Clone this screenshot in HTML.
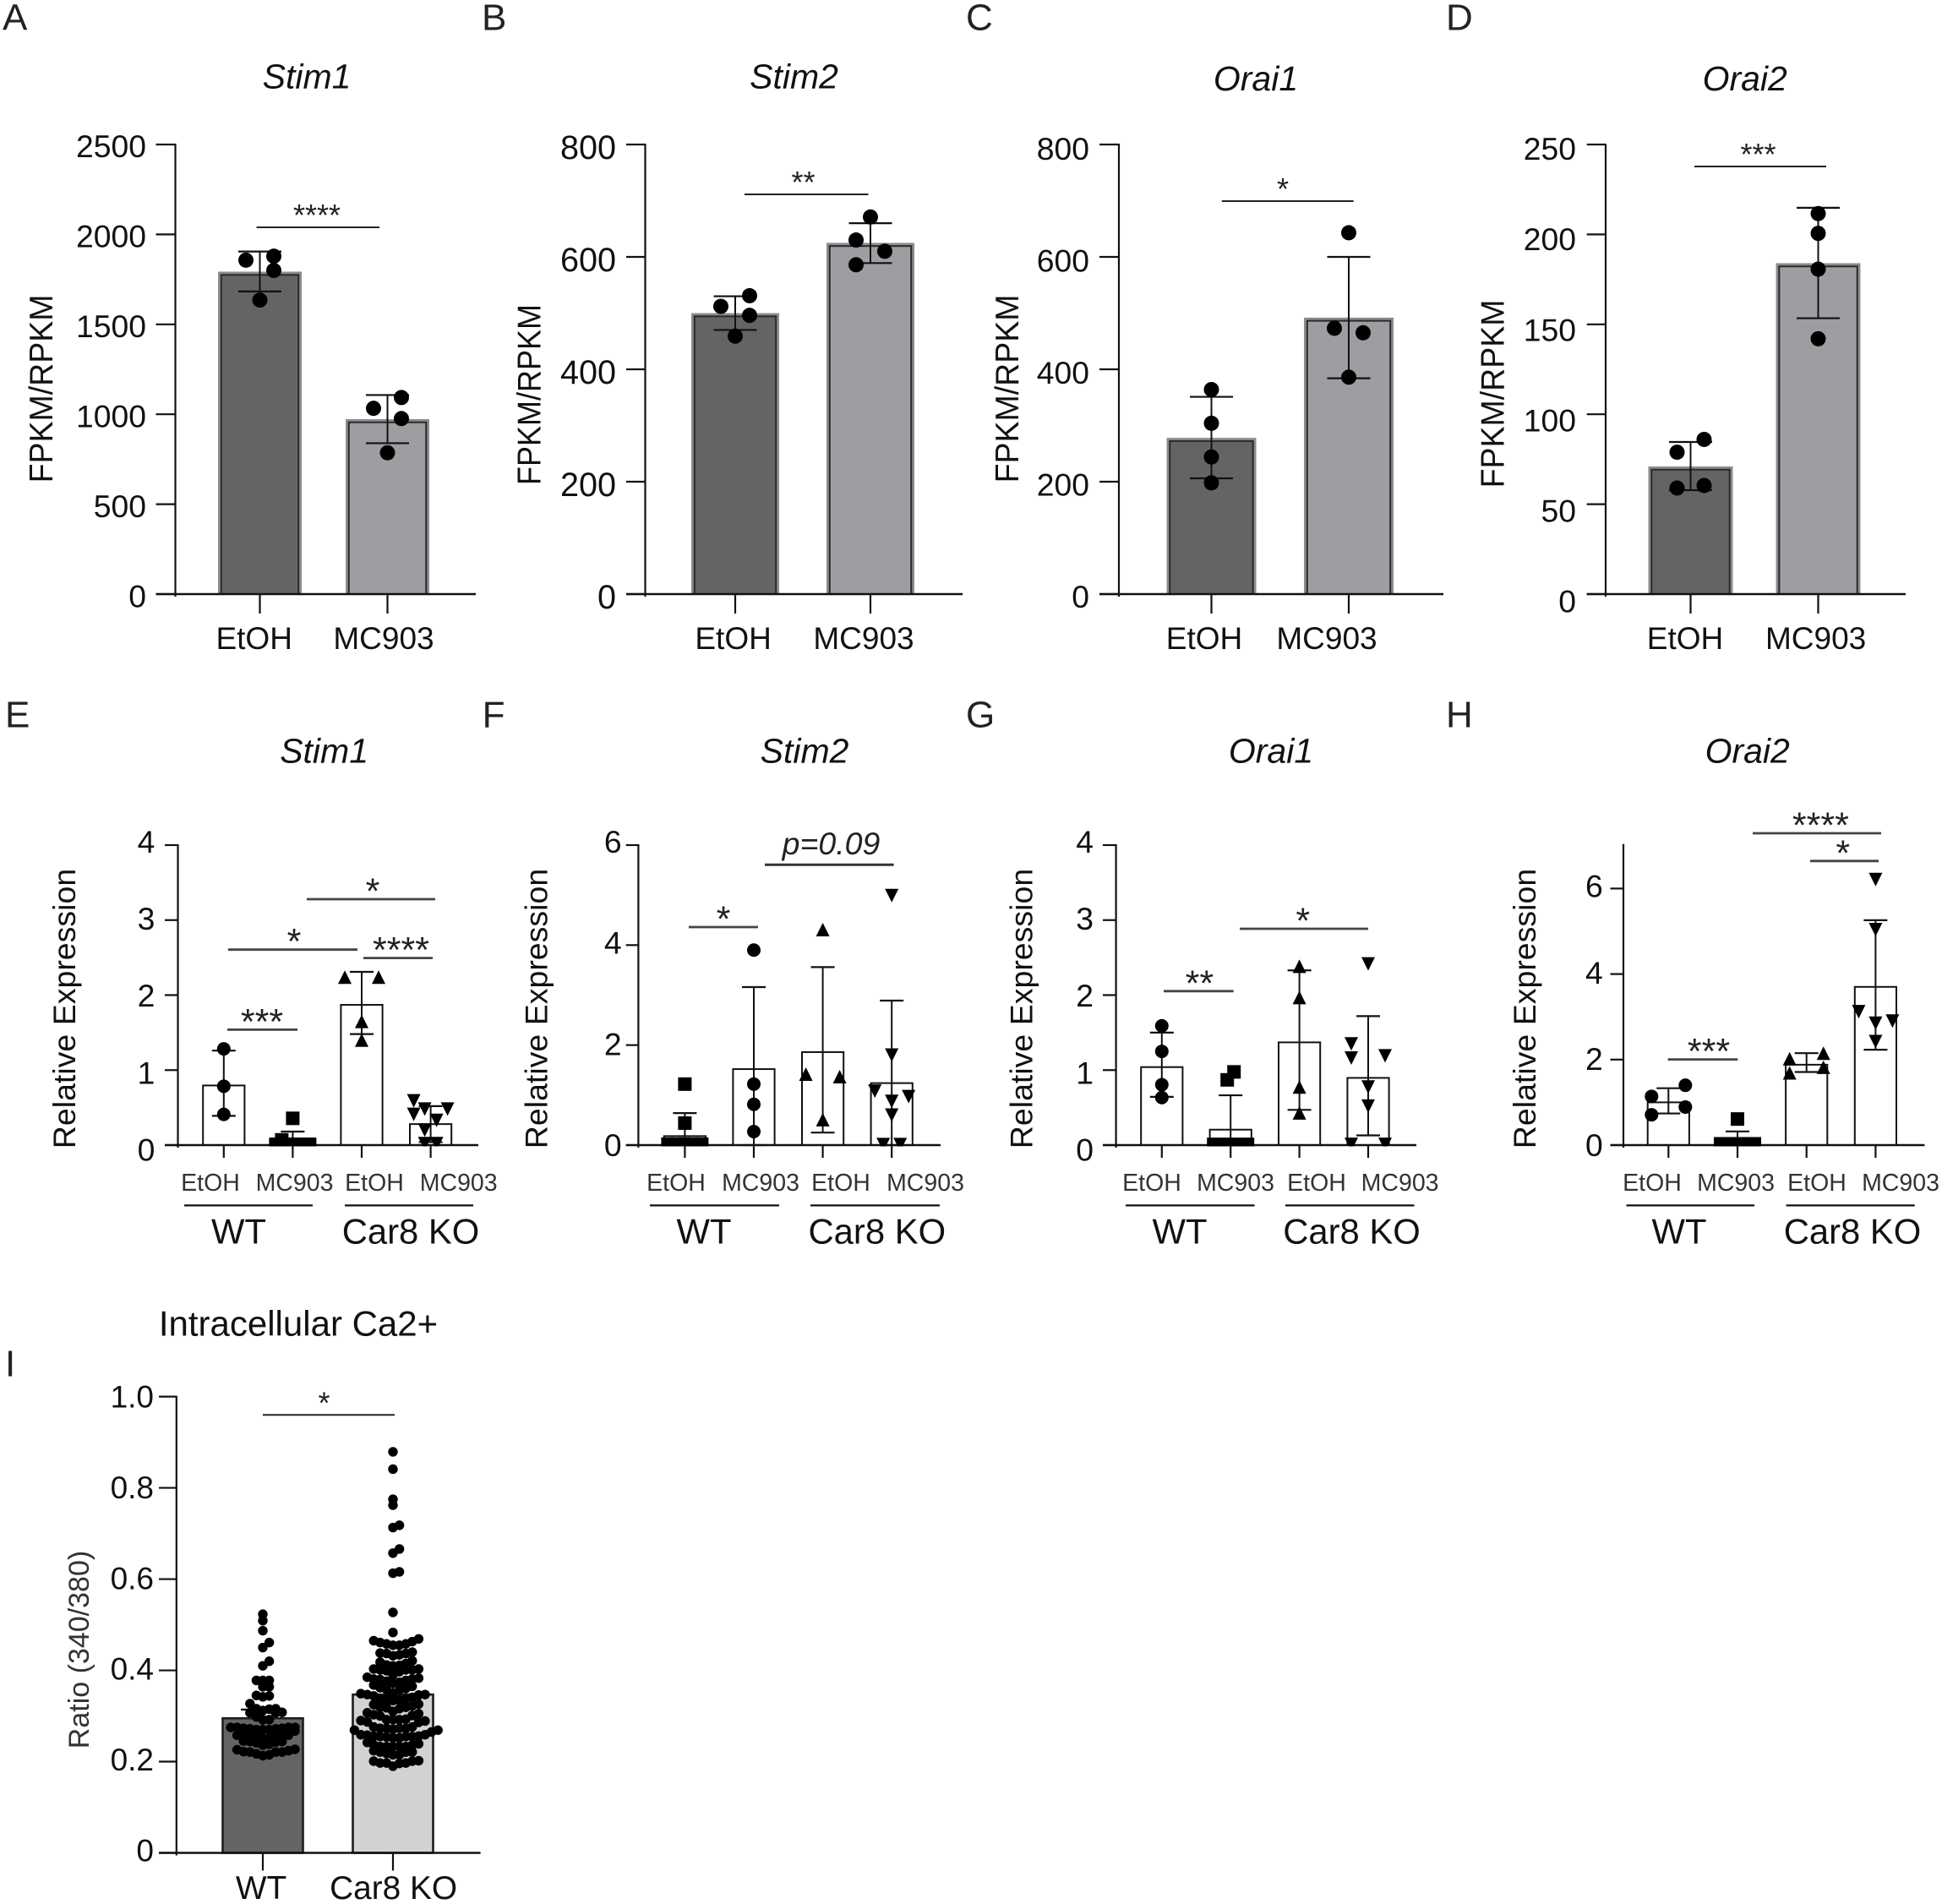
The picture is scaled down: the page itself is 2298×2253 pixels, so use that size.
<!DOCTYPE html>
<html lang="en">
<head>
<meta charset="utf-8">
<title>Stim and Orai expression panels</title>
<style>
html,body{margin:0;padding:0;background:#fff;}
svg{display:block;font-family:"Liberation Sans",sans-serif;}
</style>
</head>
<body>
<svg id="figure" xmlns="http://www.w3.org/2000/svg" width="2298" height="2253" viewBox="0 0 2298 2253"></svg>
<script>
// ---------- DATA ----------
const rnaCategories = ['EtOH', 'MC903'];
const qpcrCategories = ['EtOH', 'MC903', 'EtOH', 'MC903'];
const genotypeLabels = ['WT', 'Car8 KO'];

const aTicks = [0, 500, 1000, 1500, 2000, 2500];
const aMeans = [1793, 973];
const aErrHigh = [1905, 1107];
const aErrLow = [1683, 839];
const aPoints = [[1857, 1879, 1800, 1635], [1033, 1093, 976, 786]];
const aJitter = [[-1, 1, 1, 0], [-1, 1, 1, 0]];

const bTicks = [0, 200, 400, 600, 800];
const bMeans = [500, 625];
const bErrHigh = [530, 660];
const bErrLow = [470, 589];
const bPoints = [[512, 531, 496, 459], [630, 671, 610, 586]];
const bJitter = [[-1, 1, 1, 0], [-1, 0, 1, -1]];

const cTicks = [0, 200, 400, 600, 800];
const cMeans = [278, 492];
const cErrHigh = [351, 600];
const cErrLow = [206, 384];
const cPoints = [[364, 304, 244, 198], [473, 465, 643, 386]];
const cJitter = [[0, 0, 0, 0], [-1, 1, 0, 0]];

const dTicks = [0, 50, 100, 150, 200, 250];
const dMeans = [71, 184];
const dErrHigh = [84.6, 214.8];
const dErrLow = [57.8, 153.4];
const dPoints = [[78.9, 86, 59, 60.4], [211.6, 200.6, 180.7, 142]];
const dJitter = [[-1, 1, -1, 1], [0, 0, 0, 0]];

const eTicks = [0, 1, 2, 3, 4];
const eMeans = [0.795, 0.09, 1.87, 0.28];
const eErrHigh = [1.26, 0.18, 2.31, 0.52];
const eErrLow = [0.39, 0, 1.48, 0.04];
const ePoints = [[1.283, 0.785, 0.41], [0.357, 0.07, 0.01, 0.01, 0.01, 0.01], [2.24, 2.24, 1.65, 1.4], [0.59, 0.41, 0.48, 0.48, 0.33, 0.2, 0.02, 0.02]];
const eJitter = [[0, 0, 0], [0, -0.65, -1, -0.33, 0.33, 1], [-1, 1, 0, 0], [-1, -1, -0.35, 1, 0.35, -0.35, -0.35, 0.35]];

const fTicks = [0, 2, 4, 6];
const fMeans = [0.18, 1.52, 1.86, 1.24];
const fErrHigh = [0.64, 3.16, 3.56, 2.89];
const fErrLow = [0, 0, 0.25, 0];
const fPoints = [[1.22, 0.44, 0.02, 0.02, 0.02, 0.02, 0.02], [3.9, 1.22, 0.815, 0.27], [4.31, 1.42, 1.37, 0.51], [4.99, 1.8, 1.08, 0.97, 0.875, 0.6, 0.01, 0.01]];
const fJitter = [[0, 0, -1, -0.5, 0, 0.5, 1], [0, 0, 0, 0], [0, -1, 1, 0], [0, 0, -1, 1, 0, 0, -0.5, 0.5]];

const gTicks = [0, 1, 2, 3, 4];
const gMeans = [1.04, 0.206, 1.37, 0.896];
const gErrHigh = [1.5, 0.664, 2.33, 1.72];
const gErrLow = [0.644, 0, 0.47, 0.13];
const gPoints = [[1.59, 1.25, 0.805, 0.634], [0.976, 0.87, 0.01, 0.01, 0.01, 0.01], [2.385, 1.967, 0.775, 0.43], [2.415, 1.35, 1.16, 1.19, 0.775, 0.52, 0.01, 0.01]];
const gJitter = [[0, 0, 0, 0], [0.2, -0.2, -1, -0.33, 0.33, 1], [0, 0, 0, 0], [0, -1, -1, 1, 0, 0, -1, 1]];

const hTicks = [0, 2, 4, 6];
const hMeans = [1.0, 0.16, 1.88, 3.7];
const hErrHigh = [1.33, 0.32, 2.15, 5.26];
const hErrLow = [0.74, 0, 1.71, 2.23];
const hPoints = [[1.14, 1.4, 0.89, 0.71], [0.61, 0.03, 0.03, 0.03, 0.03, 0.03], [2.02, 2.15, 1.82, 1.69], [6.21, 5.04, 3.12, 2.9, 2.85, 2.42]];
const hJitter = [[-1, 1, 1, -1], [0, -1, -0.5, 0, 0.5, 1], [-1, 1, 1, -1], [0, 0, -1, 1, 0, 0]];

const iTicks = [0, 0.2, 0.4, 0.6, 0.8, 1.0];
const iTickLabels = ['0', '0.2', '0.4', '0.6', '0.8', '1.0'];
const iMeans = [0.295, 0.347];
const iErrHigh = [0.314, 0.366];
const iErrLow = [0.276, 0.328];
const iWtValues = [0.523, 0.509, 0.487, 0.461, 0.450, 0.420, 0.410, 0.378, 0.378, 0.378, 0.364, 0.364, 0.345, 0.344, 0.342, 0.327, 0.316, 0.315, 0.316, 0.312, 0.308, 0.307, 0.307, 0.298, 0.292, 0.292, 0.275, 0.275, 0.275, 0.273, 0.272, 0.270, 0.267, 0.273, 0.270, 0.275, 0.270, 0.272, 0.258, 0.258, 0.257, 0.255, 0.255, 0.252, 0.258, 0.255, 0.251, 0.243, 0.241, 0.244, 0.245, 0.238, 0.236, 0.244, 0.221, 0.224, 0.226, 0.227, 0.221, 0.215, 0.217, 0.221, 0.222, 0.213];
const iKoValues = [0.879, 0.841, 0.775, 0.762, 0.718, 0.713, 0.666, 0.657, 0.616, 0.613, 0.527, 0.483, 0.455, 0.458, 0.465, 0.469, 0.463, 0.455, 0.458, 0.461, 0.437, 0.438, 0.437, 0.440, 0.432, 0.434, 0.410, 0.401, 0.401, 0.403, 0.411, 0.418, 0.421, 0.415, 0.412, 0.397, 0.399, 0.401, 0.403, 0.390, 0.381, 0.380, 0.381, 0.378, 0.374, 0.372, 0.385, 0.383, 0.376, 0.360, 0.357, 0.358, 0.365, 0.362, 0.368, 0.349, 0.341, 0.338, 0.334, 0.335, 0.337, 0.338, 0.347, 0.347, 0.350, 0.344, 0.346, 0.316, 0.318, 0.319, 0.326, 0.319, 0.322, 0.325, 0.301, 0.310, 0.307, 0.300, 0.305, 0.303, 0.292, 0.290, 0.289, 0.292, 0.293, 0.287, 0.286, 0.292, 0.269, 0.273, 0.276, 0.273, 0.273, 0.273, 0.276, 0.269, 0.265, 0.271, 0.259, 0.259, 0.256, 0.252, 0.256, 0.252, 0.254, 0.255, 0.258, 0.255, 0.255, 0.233, 0.237, 0.233, 0.233, 0.242, 0.239, 0.236, 0.233, 0.233, 0.224, 0.221, 0.215, 0.215, 0.218, 0.221, 0.221, 0.197, 0.202, 0.201, 0.190, 0.196, 0.197, 0.197, 0.201];

// ---------- DRAWING ----------
const NS = 'http://www.w3.org/2000/svg';
const INK = '#111';
const figure = document.getElementById('figure');

function mk(tag, attrs, parent, text) {
  const el = document.createElementNS(NS, tag);
  for (const k in attrs) el.setAttribute(k, attrs[k]);
  if (text !== undefined) el.textContent = text;
  parent.appendChild(el);
  return el;
}

function line(parent, x1, y1, x2, y2, w, color) {
  return mk('line', {x1: x1, y1: y1, x2: x2, y2: y2, stroke: color || INK, 'stroke-width': w}, parent);
}

function label(parent, x, y, str, size, anchor, extra) {
  const attrs = Object.assign({x: x, y: y, 'font-size': size, 'text-anchor': anchor || 'middle', fill: INK}, extra || {});
  return mk('text', attrs, parent, str);
}

function marker(parent, shape, x, y, s) {
  if (shape === 'circle') return mk('circle', {cx: x, cy: y, r: s, fill: '#000'}, parent);
  if (shape === 'square') return mk('rect', {x: x - s, y: y - s, width: 2 * s, height: 2 * s, fill: '#000'}, parent);
  if (shape === 'up') return mk('polygon', {points: (x - s) + ',' + (y + s) + ' ' + (x + s) + ',' + (y + s) + ' ' + x + ',' + (y - s), fill: '#000'}, parent);
  return mk('polygon', {points: (x - s) + ',' + (y - s) + ' ' + (x + s) + ',' + (y - s) + ' ' + x + ',' + (y + s), fill: '#000'}, parent);
}

function drawFrame(g, p) {
  const yS = function (v) { return p.y0 + (p.yTop - p.y0) * v / p.yMax; };
  const xS = function (i) { return p.cx0 + i * p.step; };
  p.yScale = yS;
  p.xScale = xS;

  const letter = label(g, p.letter[1], p.letter[2], p.letter[0], 44, 'start', {fill: '#222'});
  
  

  const titleAttrs = p.upright ? {} : {'font-style': 'italic'};
  const title = label(g, p.title[1], p.title[2], p.title[0], p.titleSize || 41, 'middle', titleAttrs);
  
  

  const yt = mk('text', {
    transform: 'translate(' + p.yTitle[1] + ',' + p.yTitle[2] + ') rotate(-90) scale(1,' + (p.yTitleStretch || 1) + ')',
    'font-size': p.yTitleSize || 37.5, 'text-anchor': 'middle', fill: p.yTitleFill || INK
  }, g, p.yTitle[0]);
  
  
}

function drawAxes(g, p) {
  const yAxis = line(g, p.axisX, p.y0 + 3, p.axisX, p.axisTop !== undefined ? p.axisTop : p.yTop - 1, 2.2);
  
  
  const xAxis = line(g, p.tickLeft, p.y0, p.xEnd, p.y0, 2.4);
  
  

  p.ticks.forEach(function (v, i) {
    const y = p.yScale(v);
    const t = line(g, p.tickLeft, y, p.axisX, y, 2.2);
    
    
    const off = p.off0 + (p.offTop - p.off0) * v / p.ticks[p.ticks.length - 1];
    const txt = p.tickLabels ? p.tickLabels[i] : String(v);
    const tl = label(g, p.tickRight, y + off + 13, txt, p.tickSize || 37.3, 'end');
    
    
  });

  p.means.forEach(function (_, i) {
    const x = p.xScale(i);
    const t = line(g, x, p.y0, x, p.y0 + p.xTickLen, 2.2);
    
    
  });
}

function drawSig(g, p) {
  const size = p.starSize || 36;
  const dy = p.starDy !== undefined ? p.starDy : -2;
  p.sig.forEach(function (s) {
    const bar = line(g, s[0], s[2], s[1], s[2], p.sigWidth, p.sigColor || '#222');
    
    
    const st = label(g, s[3], s[2] + dy, s[4], size, 'middle', {fill: '#222'});
    
    
  });
}

function drawErrors(g, p, capHalf, w) {
  p.means.forEach(function (_, i) {
    const x = p.xScale(i);
    const hi = p.yScale(p.errHigh[i]);
    const lo = p.yScale(p.errLow[i]);
    const stem = line(g, x, hi, x, lo, w);
    
    
    const capTop = line(g, x - capHalf, hi, x + capHalf, hi, w + 0.2);
    
    
    const capLow = line(g, x - capHalf, lo, x + capHalf, lo, w + 0.2);
    
    
  });
}

function drawPoints(g, p) {
  const clipId = 'clip-' + p.name;
  const defs = mk('defs', {}, g);
  const cp = mk('clipPath', {id: clipId}, defs);
  mk('rect', {x: 0, y: 0, width: 2298, height: p.y0 + 1.5}, cp);
  const layer = mk('g', {'clip-path': 'url(#' + clipId + ')'}, g);
  
  
  p.points.forEach(function (arr, i) {
    arr.forEach(function (v, j) {
      const m = marker(layer, p.shapes[i], p.xScale(i) + p.jitter[i][j] * p.slot, p.yScale(v), p.markerSize[i]);
      
      
    });
  });
}

function rnaPanel(p) {
  const g = mk('g', {}, figure);
  
  
  drawFrame(g, p);
  const fills = ['#666462', '#9e9da1'];
  p.means.forEach(function (v, i) {
    const x = p.xScale(i), top = p.yScale(v);
    const outer = mk('rect', {x: x - p.hw, y: top, width: 2 * p.hw, height: p.y0 - top, fill: '#8c8c8c'}, g);
    
    
    const bar = mk('rect', {x: x - p.hw + 3.8, y: top + 3.8, width: 2 * p.hw - 7.6, height: p.y0 - top - 3.8, fill: fills[i], stroke: '#2a2a2a', 'stroke-width': 2}, g);
    
    
  });
  drawAxes(g, p);
  drawErrors(g, p, 25.5, 2);
  drawPoints(g, p);
  rnaCategories.forEach(function (c, i) {
    const t = label(g, p.catX[i], 768, c, 37);
    
    
  });
  drawSig(g, p);
}

function qpcrPanel(p) {
  p.starSize = 43;
  p.starDy = 5;
  p.sigColor = '#444';
  const g = mk('g', {}, figure);
  
  
  drawFrame(g, p);
  p.means.forEach(function (v, i) {
    const x = p.xScale(i), top = p.yScale(v);
    const bar = mk('rect', {x: x - 24.6, y: top, width: 49.2, height: p.y0 - top, fill: '#fff', stroke: '#111', 'stroke-width': 2}, g);
    
    
  });
  drawAxes(g, p);
  drawErrors(g, p, 14, 2);
  drawPoints(g, p);
  qpcrCategories.forEach(function (c, i) {
    const t = label(g, p.catX[i], 1409, c, 28.5, 'middle', {fill: '#333'});
    
    
  });
  p.groupLines.forEach(function (r) {
    const l = line(g, r[0], 1426.4, r[1], 1426.4, 2.2);
    
    
  });
  genotypeLabels.forEach(function (c, i) {
    const t = label(g, p.groupX[i], 1471.5, c, 41.8);
    
    
  });
  drawSig(g, p);
  if (p.note) {
    const n = label(g, p.note[1], p.note[2], p.note[0], 37.5, 'middle', {'font-style': 'italic', fill: '#222'});
    
    
  }
}

// Prism-style swarm: values fall into rows, each row fans out from the centre.
function swarm(values, binSize) {
  const sorted = values.slice().sort(function (a, b) { return a - b; });
  const counts = {};
  return sorted.map(function (v) {
    const bin = Math.round(v / binSize);
    const n = counts[bin] || 0;
    counts[bin] = n + 1;
    const side = n % 2 === 1 ? 1 : -1;
    return {value: v, slot: side * Math.ceil(n / 2)};
  });
}

function ratioPanel(p) {
  const g = mk('g', {}, figure);
  
  
  drawFrame(g, p);
  const fills = ['#666462', '#d2d2d2'];
  p.means.forEach(function (v, i) {
    const x = p.xScale(i), top = p.yScale(v);
    const bar = mk('rect', {x: x - 47.5, y: top, width: 95, height: p.y0 - top, fill: fills[i], stroke: '#1d1d1d', 'stroke-width': 2.6}, g);
    
    
  });
  drawAxes(g, p);
  drawErrors(g, p, 26, 2.2);
  [iWtValues, iKoValues].forEach(function (vals, i) {
    swarm(vals, 0.02).forEach(function (pt) {
      const c = mk('circle', {cx: p.xScale(i) + pt.slot * 7.6, cy: p.yScale(pt.value), r: 5.7, fill: '#000'}, g);
      
      
    });
  });
  genotypeLabels.forEach(function (c, i) {
    const t = label(g, p.catX[i], 2247, c, 38.8);
    
    
  });
  drawSig(g, p);
}

// ---------- PANELS ----------
rnaPanel({
  name: 'panel-a-stim1', letter: ['A', 3, 35.5], title: ['Stim1', 363, 104.6], yTitle: ['FPKM/RPKM', 62, 460], yTitleStretch: 1.04,
  axisX: 207.5, tickLeft: 184.5, tickRight: 173, xEnd: 563, y0: 703, yTop: 171, yMax: 2500, cx0: 307.5, step: 151, hw: 49.5, xTickLen: 23, slot: 16.5,
  off0: 2.5, offTop: 2, ticks: aTicks, means: aMeans, errHigh: aErrHigh, errLow: aErrLow, points: aPoints, jitter: aJitter,
  shapes: ['circle', 'circle'], markerSize: [9, 9], catX: [300.7, 454], sigWidth: 2,
  sig: [[303.6, 449, 269, 375, '****']]
});
rnaPanel({
  name: 'panel-b-stim2', letter: ['B', 570, 35.5], title: ['Stim2', 939.5, 104.6], yTitle: ['FPKM/RPKM', 639.5, 467], yTitleSize: 36, yTitleStretch: 1.08, tickSize: 39.6,
  axisX: 763.5, tickLeft: 741, tickRight: 729, xEnd: 1139, y0: 703, yTop: 171, yMax: 800, cx0: 870, step: 160, hw: 52, xTickLen: 23, slot: 17,
  off0: 4, offTop: 4, ticks: bTicks, means: bMeans, errHigh: bErrHigh, errLow: bErrLow, points: bPoints, jitter: bJitter,
  shapes: ['circle', 'circle'], markerSize: [9, 9], catX: [867.6, 1022], sigWidth: 2,
  sig: [[881, 1027.5, 230, 950.5, '**']]
});
rnaPanel({
  name: 'panel-c-orai1', letter: ['C', 1143, 35.5], title: ['Orai1', 1486, 107], yTitle: ['FPKM/RPKM', 1205, 460], yTitleStretch: 1.04,
  axisX: 1324, tickLeft: 1301, tickRight: 1289, xEnd: 1708, y0: 703, yTop: 171, yMax: 800, cx0: 1433.5, step: 162.5, hw: 53, xTickLen: 23, slot: 17,
  off0: 3, offTop: 5, ticks: cTicks, means: cMeans, errHigh: cErrHigh, errLow: cErrLow, points: cPoints, jitter: cJitter,
  shapes: ['circle', 'circle'], markerSize: [9, 9], catX: [1425, 1570], sigWidth: 2,
  sig: [[1445.8, 1601.7, 238, 1518, '*']]
});
rnaPanel({
  name: 'panel-d-orai2', letter: ['D', 1711, 35.5], title: ['Orai2', 2064.7, 107], yTitle: ['FPKM/RPKM', 1779.6, 466], yTitleStretch: 1.04,
  axisX: 1900, tickLeft: 1877.7, tickRight: 1865, xEnd: 2255, y0: 703, yTop: 171, yMax: 250, cx0: 2000.5, step: 151, hw: 50, xTickLen: 23, slot: 16,
  off0: 8.7, offTop: 5, ticks: dTicks, means: dMeans, errHigh: dErrHigh, errLow: dErrLow, points: dPoints, jitter: dJitter,
  shapes: ['circle', 'circle'], markerSize: [9, 9], catX: [1994, 2148.6], sigWidth: 2,
  sig: [[2005, 2161, 197, 2080.5, '***']]
});

const qShapes = ['circle', 'square', 'up', 'down'];
const qShapesF = ['square', 'circle', 'up', 'down'];
const qSizes = [8, 8, 8, 8];

qpcrPanel({
  name: 'panel-e-stim1', letter: ['E', 6, 860.5], title: ['Stim1', 383.6, 902.3], yTitle: ['Relative Expression', 89, 1193.5],
  axisX: 210.5, tickLeft: 195, tickRight: 183.4, xEnd: 566, y0: 1355, yTop: 1000, yMax: 4, cx0: 264.8, step: 81.6, xTickLen: 15, slot: 20,
  off0: 5.4, offTop: -4, ticks: eTicks, means: eMeans, errHigh: eErrHigh, errLow: eErrLow, points: ePoints, jitter: eJitter,
  shapes: qShapes, markerSize: qSizes, catX: [249, 348.5, 443, 542.7], groupLines: [[218, 370], [408, 560]], groupX: [282.5, 486], sigWidth: 2.8,
  sig: [[269, 352, 1218.4, 310, '***'], [270, 423, 1123.7, 348, '*'], [430, 512, 1133.6, 474.5, '****'], [363, 515, 1064, 441, '*']]
});
qpcrPanel({
  name: 'panel-f-stim2', letter: ['F', 570.6, 860.5], title: ['Stim2', 952, 902.3], yTitle: ['Relative Expression', 647.6, 1193.5],
  axisX: 755.4, tickLeft: 740.7, tickRight: 735.6, xEnd: 1113, y0: 1355, yTop: 1000, yMax: 6, cx0: 810.4, step: 81.6, xTickLen: 15, slot: 20,
  off0: 0, offTop: -4, ticks: fTicks, means: fMeans, errHigh: fErrHigh, errLow: fErrLow, points: fPoints, jitter: fJitter,
  shapes: qShapesF, markerSize: qSizes, catX: [800, 900, 995, 1095], groupLines: [[769, 922], [959, 1112]], groupX: [833, 1037.8], sigWidth: 2.8,
  sig: [[815, 897, 1097, 856, '*']], note: ['p=0.09', 983.5, 1011]
});
const fNoteLine = line(figure, 905, 1023.3, 1057.6, 1023.3, 3, '#333');



qpcrPanel({
  name: 'panel-g-orai1', letter: ['G', 1143, 860.5], title: ['Orai1', 1504, 902.3], yTitle: ['Relative Expression', 1221.7, 1193.5],
  axisX: 1320.6, tickLeft: 1305, tickRight: 1294, xEnd: 1676, y0: 1355, yTop: 1000, yMax: 4, cx0: 1374.8, step: 81.4, xTickLen: 15, slot: 20,
  off0: 5.4, offTop: -4, ticks: gTicks, means: gMeans, errHigh: gErrHigh, errLow: gErrLow, points: gPoints, jitter: gJitter,
  shapes: qShapes, markerSize: qSizes, catX: [1363, 1462, 1558, 1656.6], groupLines: [[1332, 1484.6], [1521, 1673.5]], groupX: [1396, 1599.5], sigWidth: 2.8,
  sig: [[1377, 1459.7, 1172.8, 1419.4, '**'], [1467, 1619, 1099, 1541.7, '*']]
});
qpcrPanel({
  name: 'panel-h-orai2', letter: ['H', 1711, 860.5], title: ['Orai2', 2067.7, 902.3], yTitle: ['Relative Expression', 1817, 1193.5],
  axisX: 1921, tickLeft: 1905.5, tickRight: 1896.7, xEnd: 2277.4, y0: 1355, yTop: 1051.4, yMax: 6, axisTop: 998.7, cx0: 1974.3, step: 81.7, xTickLen: 15, slot: 20,
  off0: 0, offTop: -2.7, ticks: hTicks, means: hMeans, errHigh: hErrHigh, errLow: hErrLow, points: hPoints, jitter: hJitter,
  shapes: qShapes, markerSize: qSizes, catX: [1955, 2054, 2150, 2249], groupLines: [[1924.5, 2076], [2113.5, 2265.7]], groupX: [1987, 2192], sigWidth: 2.8,
  sig: [[1973.6, 2056.3, 1253.6, 2022, '***'], [2074, 2226, 986, 2154.4, '****'], [2142, 2223, 1018.8, 2180.8, '*']]
});

ratioPanel({
  name: 'panel-i-calcium', letter: ['I', 6, 1628.5], title: ['Intracellular Ca2+', 353, 1580.7], titleSize: 42, upright: true,
  yTitle: ['Ratio (340/380)', 105, 1952], yTitleSize: 34, yTitleFill: '#333',
  axisX: 208.8, tickLeft: 188, tickRight: 182, xEnd: 568.6, y0: 2192.5, yTop: 1652.6, yMax: 1, cx0: 311, step: 154, xTickLen: 21, tickSize: 37,
  off0: -3, offTop: 0, ticks: iTicks, tickLabels: iTickLabels, means: iMeans, errHigh: iErrHigh, errLow: iErrLow,
  catX: [309, 465.6], sigWidth: 2, sig: [[311, 467, 1674.3, 383.5, '*']]
});
</script>
</body>
</html>
